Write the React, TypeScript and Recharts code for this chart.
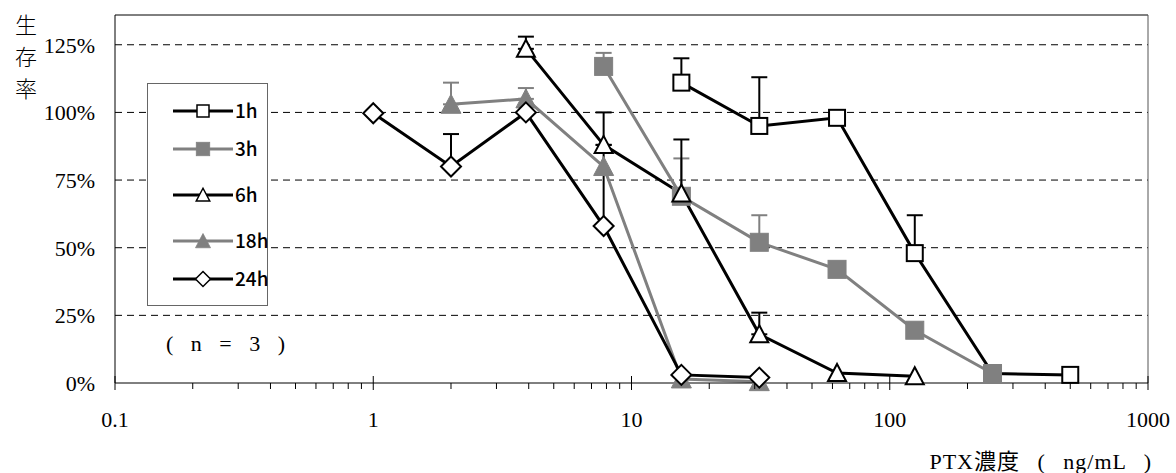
import React from 'react';
import {
  LineChart,
  Line,
  XAxis,
  YAxis,
  CartesianGrid,
  ErrorBar,
  ReferenceLine,
} from 'recharts';

// ---------------------------------------------------------------------------
// data (survival %, upper error only)
// ---------------------------------------------------------------------------
const conc1h = [15.6, 31.25, 62.5, 125, 250, 500];
const surv1h = [111, 95, 98, 48, 3.5, 3];
const err1h = [9, 18, 0, 14, 0, 0];

const conc3h = [7.8, 15.6, 31.25, 62.5, 125, 250];
const surv3h = [117, 69, 52, 42, 19.5, 3.5];
const err3h = [5, 14, 10, 0, 0, 0];

const conc6h = [3.9, 7.8, 15.6, 31.25, 62.5, 125];
const surv6h = [123.5, 88, 70, 18, 3.7, 2.5];
const err6h = [4.5, 12, 20, 8, 0, 0];

const conc18h = [2, 3.9, 7.8, 15.6, 31.25];
const surv18h = [103, 105, 80, 1.5, 0.5];
const err18h = [8, 4, 0, 0, 0];

const conc24h = [1, 2, 3.9, 7.8, 15.6, 31.25];
const surv24h = [99.7, 80, 100, 58, 3, 2];
const err24h = [0, 12, 0, 30, 0, 0];

const xMajorTicks = [0.1, 1, 10, 100, 1000];
const xMinorTicks = [
  0.2, 0.3, 0.4, 0.5, 0.6, 0.7, 0.8, 0.9,
  2, 3, 4, 5, 6, 7, 8, 9,
  20, 30, 40, 50, 60, 70, 80, 90,
  200, 300, 400, 500, 600, 700, 800, 900,
];
const yTicks = [0, 25, 50, 75, 100, 125];
const yGridLines = [25, 50, 75, 100, 125];
const legendLabels = ['1h', '3h', '6h', '18h', '24h'];

const BLACK = '#000000';
const GRAY = '#808080';
const SERIF = '"Times New Roman", "Liberation Serif", "DejaVu Serif", "Noto Sans CJK JP", serif';
const GOTHIC = '"Noto Sans CJK JP", "Noto Sans", sans-serif';

const toRows = (xs: number[], ys: number[], es: number[]) =>
  xs.map((x, i) => ({ x, y: ys[i], err: es[i] > 0 ? [0, es[i]] : undefined }));

const rows1h = toRows(conc1h, surv1h, err1h);
const rows3h = toRows(conc3h, surv3h, err3h);
const rows6h = toRows(conc6h, surv6h, err6h);
const rows18h = toRows(conc18h, surv18h, err18h);
const rows24h = toRows(conc24h, surv24h, err24h);

// ---------------------------------------------------------------------------
// markers
// ---------------------------------------------------------------------------
type Kind = 'openSquare' | 'fillSquare' | 'openTri' | 'fillTri' | 'diamond';

const Marker = ({ kind, cx, cy }: { kind: Kind; cx: number; cy: number }) => {
  switch (kind) {
    case 'openSquare':
      return <rect x={cx - 8} y={cy - 8} width={16} height={16} fill="#fff" stroke={BLACK} strokeWidth={2} />;
    case 'fillSquare':
      return <rect x={cx - 9} y={cy - 9} width={18} height={18} fill={GRAY} stroke={GRAY} strokeWidth={1} />;
    case 'openTri':
      return (
        <path
          d={`M${cx},${cy - 9} L${cx + 9},${cy + 8} L${cx - 9},${cy + 8} Z`}
          fill="#fff"
          stroke={BLACK}
          strokeWidth={2}
        />
      );
    case 'fillTri':
      return (
        <path
          d={`M${cx},${cy - 10} L${cx + 10},${cy + 9} L${cx - 10},${cy + 9} Z`}
          fill={GRAY}
          stroke={GRAY}
          strokeWidth={1}
        />
      );
    default:
      return (
        <path
          d={`M${cx},${cy - 10} L${cx + 10},${cy} L${cx},${cy + 10} L${cx - 10},${cy} Z`}
          fill="#fff"
          stroke={BLACK}
          strokeWidth={2}
        />
      );
  }
};

const dotOf = (kind: Kind) => (p: any) =>
  p.cx == null ? <g key={p.index} /> : <g key={p.index}><Marker kind={kind} cx={p.cx} cy={p.cy} /></g>;

// x tick: major ticks cross the axis and carry a label, minor ticks hang below
const XTick = (props: any) => {
  const { x, y, payload } = props;
  const v = payload.value as number;
  const major = xMajorTicks.includes(v);
  return (
    <g>
      <line x1={x} x2={x} y1={major ? y - 7 : y} y2={y + (major ? 7 : 6)} stroke={BLACK} strokeWidth={1} />
      {major && (
        <text x={x} y={y + 44} textAnchor="middle" fontFamily={SERIF} fontSize={22} fill={BLACK}>
          {String(v)}
        </text>
      )}
    </g>
  );
};

const legendKinds: Kind[] = ['openSquare', 'fillSquare', 'openTri', 'fillTri', 'diamond'];
const legendColors = [BLACK, GRAY, BLACK, GRAY, BLACK];
const legendRowY = [28, 66, 112, 158, 196];

const ChartLegend = () => (
  <svg width={122} height={224} style={{ position: 'absolute', left: 147, top: 83 }}>
    <rect x={0.5} y={0.5} width={120} height={222} fill="#fff" stroke="#666" strokeWidth={1} />
    {legendLabels.map((label, i) => (
      <g key={label}>
        <line x1={26} x2={86} y1={legendRowY[i]} y2={legendRowY[i]} stroke={legendColors[i]} strokeWidth={3} />
        <g transform={`translate(56, ${legendRowY[i]}) scale(0.75)`}>
          <Marker kind={legendKinds[i]} cx={0} cy={0} />
        </g>
        <text x={88} y={legendRowY[i] + 7} fontFamily={GOTHIC} fontSize={19} fontWeight={500} fill={BLACK}>
          {label}
        </text>
      </g>
    ))}
  </svg>
);

export default function App() {
  return (
    <div style={{ position: 'absolute', left: 0, top: 0, width: 1176, height: 473, background: '#fff' }}>
      <LineChart width={1176} height={473} margin={{ top: 15, right: 28, bottom: 60, left: 55 }}>
        <CartesianGrid
          vertical={false}
          horizontalValues={yGridLines}
          stroke={BLACK}
          strokeDasharray="7 5"
        />
        <XAxis
          dataKey="x"
          type="number"
          scale="log"
          domain={[0.1, 1000]}
          ticks={[...xMajorTicks, ...xMinorTicks]}
          interval={0}
          allowDataOverflow
          height={30}
          stroke={BLACK}
          tickLine={false}
          tickSize={0}
          tickMargin={0}
          tick={<XTick />}
        />
        <YAxis
          type="number"
          domain={[0, 136]}
          ticks={yTicks}
          interval={0}
          width={60}
          stroke={BLACK}
          tickLine={false}
          tickSize={0}
          tickMargin={20}
          tickFormatter={(v: number) => `${v}%`}
          tick={{ fill: BLACK, fontFamily: SERIF, fontSize: 22 }}
        />
        <ReferenceLine y={136} stroke={BLACK} strokeWidth={1} />
        <ReferenceLine x={1000} stroke="#555" strokeWidth={1} />

        <Line data={rows1h} dataKey="y" stroke={BLACK} strokeWidth={3} dot={dotOf('openSquare')} activeDot={false} isAnimationActive={false}>
          <ErrorBar dataKey="err" direction="y" width={8} stroke={BLACK} strokeWidth={2} />
        </Line>
        <Line data={rows3h} dataKey="y" stroke={GRAY} strokeWidth={3} dot={dotOf('fillSquare')} activeDot={false} isAnimationActive={false}>
          <ErrorBar dataKey="err" direction="y" width={8} stroke={GRAY} strokeWidth={2} />
        </Line>
        <Line data={rows6h} dataKey="y" stroke={BLACK} strokeWidth={3} dot={dotOf('openTri')} activeDot={false} isAnimationActive={false}>
          <ErrorBar dataKey="err" direction="y" width={8} stroke={BLACK} strokeWidth={2} />
        </Line>
        <Line data={rows18h} dataKey="y" stroke={GRAY} strokeWidth={3} dot={dotOf('fillTri')} activeDot={false} isAnimationActive={false}>
          <ErrorBar dataKey="err" direction="y" width={8} stroke={GRAY} strokeWidth={2} />
        </Line>
        <Line data={rows24h} dataKey="y" stroke={BLACK} strokeWidth={3} dot={dotOf('diamond')} activeDot={false} isAnimationActive={false}>
          <ErrorBar dataKey="err" direction="y" width={8} stroke={BLACK} strokeWidth={2} />
        </Line>
      </LineChart>

      <ChartLegend />

      <div
        style={{
          position: 'absolute',
          left: 13,
          top: 7,
          width: 26,
          fontFamily: GOTHIC,
          fontSize: 22,
          fontWeight: 300,
          lineHeight: '32px',
          textAlign: 'center',
          color: BLACK,
        }}
      >
        生<br />存<br />率
      </div>

      <div
        style={{
          position: 'absolute',
          left: 166,
          top: 331,
          fontFamily: SERIF,
          fontSize: 22,
          whiteSpace: 'pre',
          letterSpacing: 6,
          color: BLACK,
        }}
      >
        ( n = 3 )
      </div>

      <div
        style={{
          position: 'absolute',
          right: 24,
          top: 449,
          fontFamily: SERIF,
          fontSize: 22,
          lineHeight: '26px',
          whiteSpace: 'pre',
          letterSpacing: 1,
          wordSpacing: 11,
          color: BLACK,
        }}
      >
        PTX濃度 ( ng/mL )
      </div>
    </div>
  );
}
